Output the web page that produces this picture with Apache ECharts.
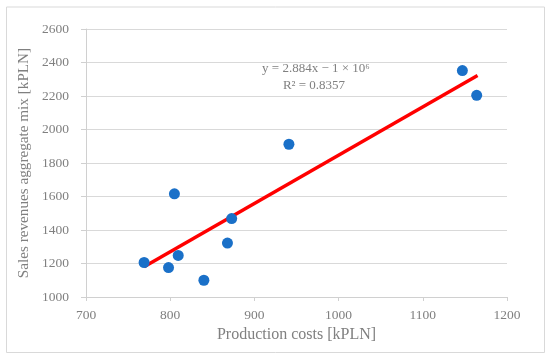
<!DOCTYPE html>
<html><head><meta charset="utf-8">
<script src="https://cdn.jsdelivr.net/npm/echarts@6/dist/echarts.min.js"></script>
<style>html,body{margin:0;padding:0;background:#fff}#c{width:550px;height:355px}</style>
</head><body><div id="c"></div>
<script>
const costs = [769, 798, 805, 809.5, 840, 868, 873, 941, 1147, 1164];
const revenues = [1206, 1176, 1616, 1248, 1100, 1322, 1468, 1912, 2352, 2204];
const trendX = [769, 1165];
const trendY = [1180, 2322];
const xTicks = [700, 800, 900, 1000, 1100, 1200];
const yTicks = [1000, 1200, 1400, 1600, 1800, 2000, 2200, 2400, 2600];
const eqLine1 = 'y = 2.884x − 1 × 10⁶';
const eqLine2 = 'R² = 0.8357';

const font = '"Liberation Serif", "DejaVu Serif", serif';
const grey = '#808080';
const chart = echarts.init(document.getElementById('c'));
chart.setOption({
  animation: false,
  backgroundColor: '#fff',
  grid: {left: 86, right: 43, top: 29, bottom: 58},
  xAxis: {
    type: 'value', min: xTicks[0], max: xTicks[xTicks.length-1], interval: 100,
    name: 'Production costs [kPLN]', nameLocation: 'middle', nameGap: 30,
    nameTextStyle: {fontFamily: font, fontSize: 16, color: grey},
    axisLine: {show: true, lineStyle: {color: '#d0d0d0', width: 1}},
    axisTick: {show: true, length: 4, lineStyle: {color: '#d0d0d0'}},
    axisLabel: {fontFamily: font, fontSize: 13.5, color: grey, margin: 11, formatter: v => String(v)},
    splitLine: {show: false}
  },
  yAxis: {
    type: 'value', min: yTicks[0], max: yTicks[yTicks.length-1], interval: 200,
    name: 'Sales revenues aggregate mix [kPLN]', nameLocation: 'middle', nameGap: 49,
    nameTextStyle: {fontFamily: font, fontSize: 15.2, color: grey},
    axisLine: {show: true, lineStyle: {color: '#d0d0d0', width: 1}},
    axisTick: {show: true, length: 5, lineStyle: {color: '#d0d0d0'}},
    axisLabel: {fontFamily: font, fontSize: 13.5, color: grey, margin: 17, formatter: v => String(v)},
    splitLine: {show: true, lineStyle: {color: '#d9d9d9', width: 1}}
  },
  series: [
    {
      type: 'line', data: trendX.map((x, i) => [x, trendY[i]]),
      symbol: 'none', lineStyle: {color: '#ff0000', width: 3.5}, z: 2
    },
    {
      type: 'scatter', data: costs.map((x, i) => [x, revenues[i]]),
      symbolSize: 11, itemStyle: {color: '#1a70c8', opacity: 1}, z: 3
    }
  ],
  graphic: [
    {type: 'rect', left: 4, top: 4.5, shape: {width: 538, height: 345.5},
     style: {fill: 'none', stroke: '#d9d9d9', lineWidth: 1}, silent: true},
    {type: 'text', x: 316, y: 69, style: {text: eqLine1, font: '13px ' + font, fill: grey, textAlign: 'center', textVerticalAlign: 'middle'}},
    {type: 'text', x: 314, y: 86, style: {text: eqLine2, font: '13px ' + font, fill: grey, textAlign: 'center', textVerticalAlign: 'middle'}}
  ]
});
</script></body></html>
